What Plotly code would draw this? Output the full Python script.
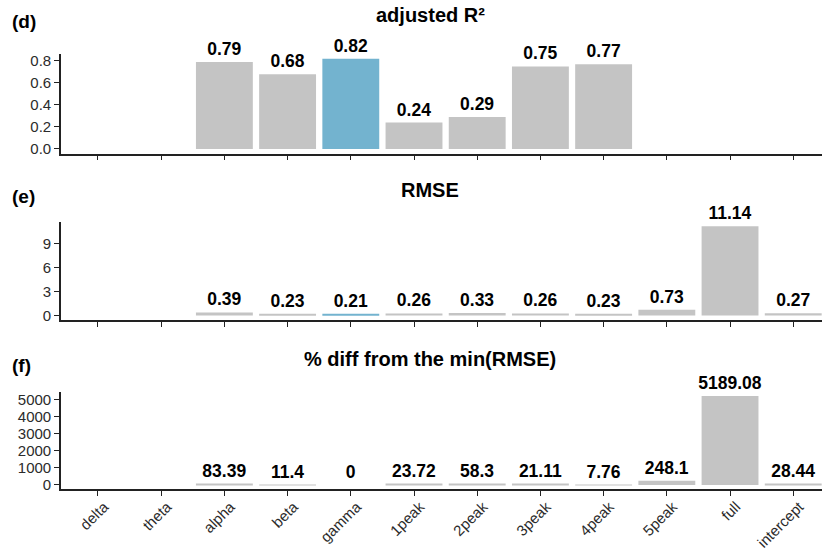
import plotly.graph_objects as go

categories = ["delta", "theta", "alpha", "beta", "gamma", "1peak", "2peak",
              "3peak", "4peak", "5peak", "full", "intercept"]
adj_r2 = [None, None, 0.79, 0.68, 0.82, 0.24, 0.29, 0.75, 0.77, None, None, None]
rmse = [None, None, 0.39, 0.23, 0.21, 0.26, 0.33, 0.26, 0.23, 0.73, 11.14, 0.27]
pct_diff = [None, None, 83.39, 11.4, 0, 23.72, 58.3, 21.11, 7.76, 248.1, 5189.08, 28.44]
highlight = "gamma"

panel_tags = ["(d)", "(e)", "(f)"]
panel_titles = ["adjusted R²", "RMSE", "% diff from the min(RMSE)"]
y_dticks = [0.2, 3, 1000]
y_formats = [".1f", "d", "d"]

GREY = "#C4C4C4"
BLUE = "#73B3CF"
FONT = "Liberation Sans, Arial, sans-serif"

series = [adj_r2, rmse, pct_diff]
domains = [(0.7209, 0.9013), (0.4182, 0.5969), (0.1102, 0.2880)]
title_y = [15, 190, 359]

fig = go.Figure()
for i, vals in enumerate(series):
    n = i + 1
    xa = "x" if n == 1 else f"x{n}"
    ya = "y" if n == 1 else f"y{n}"
    colors = [BLUE if c == highlight else GREY for c in categories]
    texts = ["" if v is None else f"{v:g}" for v in vals]
    fig.add_trace(go.Bar(
        x=categories, y=vals, marker=dict(color=colors, line=dict(width=0)),
        text=texts, textposition="outside", cliponaxis=False, constraintext="none",
        textfont=dict(family=FONT, size=17.5, color="black", weight="bold"),
        xaxis=xa, yaxis=ya, showlegend=False, hoverinfo="x+y",
    ))
    finite = [v for v in vals if v is not None]
    vmax = max(finite)
    pad = 0.05 * vmax
    axis_common = dict(showline=True, linecolor="#222", linewidth=1.6,
                       ticks="outside", ticklen=5, tickwidth=1.4, tickcolor="#222",
                       showgrid=False, zeroline=False, automargin=False,
                       tickfont=dict(family=FONT, size=15, color="#2b2b2b"))
    fig.update_layout(**{
        ("xaxis" if n == 1 else f"xaxis{n}"): dict(
            domain=[61 / 822, 1], anchor=ya, type="category",
            categoryorder="array", categoryarray=categories,
            range=[-0.585, 11.455], showticklabels=(n == 3), tickangle=-45,
            ticklabelshift=6, ticklabelstandoff=-4,
            **axis_common),
        ("yaxis" if n == 1 else f"yaxis{n}"): dict(
            domain=list(domains[i]), anchor=xa, range=[-pad, vmax + pad],
            dtick=y_dticks[i], tick0=0, tickformat=y_formats[i],
            **axis_common),
    })
    fig.add_annotation(text=f"<b>{panel_tags[i]}</b>", x=10 / 822, xref="paper",
                       y=1 - (title_y[i] + 6) / 550, yref="paper", showarrow=False,
                       xanchor="left", yanchor="middle",
                       font=dict(family=FONT, size=19, color="black"))
    fig.add_annotation(text=f"<b>{panel_titles[i]}</b>", x=430 / 822, xref="paper",
                       y=1 - title_y[i] / 550, yref="paper", showarrow=False,
                       xanchor="center", yanchor="middle",
                       font=dict(family=FONT, size=20, color="black"))

fig.update_layout(width=822, height=550, margin=dict(l=0, r=0, t=0, b=0),
                  paper_bgcolor="white", plot_bgcolor="white", bargap=0.1)
fig.write_html("out.html")
